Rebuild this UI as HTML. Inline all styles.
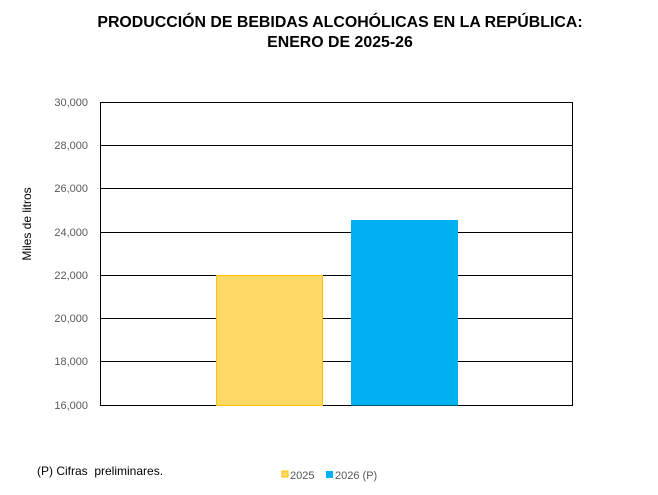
<!DOCTYPE html>
<html><head><meta charset="utf-8"><style>
body{margin:0;background:#fff;}
svg{display:block;font-family:"Liberation Sans",sans-serif;}
</style></head><body>
<svg width="658" height="495" viewBox="0 0 658 495" xmlns="http://www.w3.org/2000/svg">
<rect width="658" height="495" fill="#fff"/>
<text x="340" y="27" text-anchor="middle" font-size="15.9" font-weight="bold" fill="#000">PRODUCCIÓN DE BEBIDAS ALCOHÓLICAS EN LA REPÚBLICA:</text>
<text x="340" y="47" text-anchor="middle" font-size="15.9" font-weight="bold" fill="#000">ENERO DE 2025-26</text>
<g stroke="#000" stroke-width="1">
<line x1="100" y1="102.5" x2="573" y2="102.5"/>
<line x1="100" y1="145.5" x2="573" y2="145.5"/>
<line x1="100" y1="188.5" x2="573" y2="188.5"/>
<line x1="100" y1="232.5" x2="573" y2="232.5"/>
<line x1="100" y1="275.5" x2="573" y2="275.5"/>
<line x1="100" y1="318.5" x2="573" y2="318.5"/>
<line x1="100" y1="361.5" x2="573" y2="361.5"/>
<line x1="100" y1="405.5" x2="573" y2="405.5"/>
<line x1="100.5" y1="102" x2="100.5" y2="405"/>
<line x1="572.5" y1="102" x2="572.5" y2="405"/>
</g>
<rect x="216.5" y="275.5" width="106" height="130" fill="#FFD966" stroke="#FFC000" stroke-width="1"/>
<rect x="351" y="220" width="107" height="185.5" fill="#00B0F0"/>
<g font-size="11" fill="#595959" text-anchor="end">
<text x="88" y="106">30,000</text>
<text x="88" y="149">28,000</text>
<text x="88" y="192">26,000</text>
<text x="88" y="236">24,000</text>
<text x="88" y="279">22,000</text>
<text x="88" y="322">20,000</text>
<text x="88" y="365">18,000</text>
<text x="88" y="409">16,000</text>
</g>
<text transform="translate(31,224) rotate(-90)" text-anchor="middle" font-size="12" fill="#000">Miles de litros</text>
<text x="37" y="475" font-size="12" fill="#000" xml:space="preserve">(P) Cifras  preliminares.</text>
<rect x="282" y="471" width="6" height="6" fill="#FFD966" stroke="#FFC000" stroke-width="1"/>
<text x="290" y="479" font-size="11" fill="#595959">2025</text>
<rect x="326" y="471" width="7" height="7" fill="#00B0F0"/>
<text x="335" y="479" font-size="11" fill="#595959">2026 (P)</text>
</svg>
</body></html>
